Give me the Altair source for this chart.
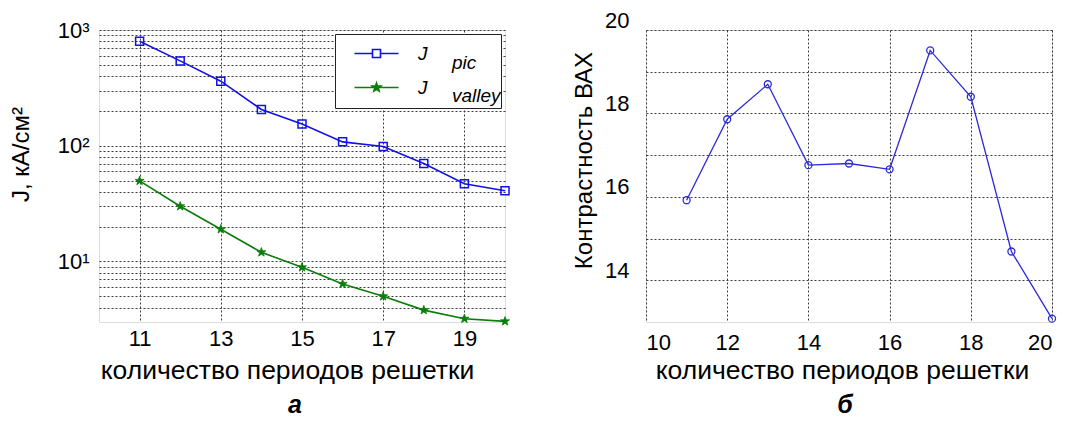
import altair as alt
import pandas as pd

# ---------------- data ----------------
periods = [11, 12, 13, 14, 15, 16, 17, 18, 19, 20]
j_pic = [800, 541, 361, 206, 154, 108, 98.6, 70.3, 47.0, 40.9]
j_valley = [49.7, 30.0, 19.0, 12.0, 8.9, 6.4, 5.0, 3.8, 3.2, 3.04]
contrast = [15.92, 17.86, 18.70, 16.76, 16.80, 16.66, 19.51, 18.40, 14.69, 13.08]
series_names = ["pic", "valley"]

left_x_ticks = [11, 13, 15, 17, 19]
left_y_grid = [4, 5, 6, 7, 8, 9, 10, 20, 30, 40, 50, 60, 70, 80, 90,
               100, 200, 300, 400, 500, 600, 700, 800, 900, 1000]
right_x_ticks = [10, 12, 14, 16, 18, 20]
right_y_grid = [14, 15, 16, 17, 18, 19, 20]

# ---------------- style ----------------
FONT = "Liberation Sans, Arial, Helvetica, sans-serif"
BLUE = "#1212e6"
BLUE2 = "#2a2ad8"
GREEN = "#0a7d0a"
GRID = dict(grid=True, gridColor="#3a3a3a", gridDash=[2, 2], gridWidth=1,
            gridOpacity=1, domain=False, ticks=False, labelOverlap=False,
            labelColor="black", titleColor="black", titleFontWeight="normal",
            labelFont=FONT, titleFont=FONT)

STAR = ("M0,-1L0.235,-0.324L0.951,-0.309L0.38,0.124L0.588,0.809L0,0.4"
        "L-0.588,0.809L-0.38,0.124L-0.951,-0.309L-0.235,-0.324Z")
# legend symbols: a short line with the marker in its middle
LEG_PIC = "M0,0H4.5M6.5,0H11M4.5,-1H6.5V1H4.5Z"
LEG_VAL = ("M0,0H11M5.5,-1.12L5.76,-0.36L6.57,-0.35L5.93,0.14L6.16,0.91L5.5,0.45"
           "L4.84,0.91L5.07,0.14L4.43,-0.35L5.24,-0.36Z")

NB = "\u00a0"
ZW = "\u200b"

df_j = pd.DataFrame({
    "n": periods * 2,
    "J": j_pic + j_valley,
    "series": ["pic"] * len(periods) + ["valley"] * len(periods),
})
df_j["sub"] = df_j["series"]
df_c = pd.DataFrame({"n": periods, "C": contrast})

W, H = 406, 292

# ---------------- left panel ----------------
xl = alt.X("n:Q", scale=alt.Scale(domain=[10, 20], nice=False, zero=False),
           axis=alt.Axis(values=left_x_ticks, title="количество периодов решетки",
                         labelFontSize=22, labelPadding=6, titleFontSize=26.5,
                         titleX=188, titleY=48, titleAlign="center",
                         titleBaseline="middle", **GRID))
yl = alt.Y("J:Q", scale=alt.Scale(type="log", domain=[3, 1000], nice=False),
           axis=alt.Axis(values=left_y_grid,
                         labelExpr="datum.value == 10 ? '10¹' : datum.value == 100 ? '10²' : datum.value == 1000 ? '10³' : ''",
                         title="J, кА/см²", labelFontSize=22, labelPadding=10,
                         titleFontSize=24, titleAngle=270, titleX=-78, titleY=124,
                         titleAlign="center", titleBaseline="middle", **GRID))

base_l = alt.Chart(df_j)
line_pic = base_l.transform_filter("datum.series == 'pic'").mark_line(
    color=BLUE, strokeWidth=1.6).encode(x=xl, y=yl)
line_val = base_l.transform_filter("datum.series == 'valley'").mark_line(
    color=GREEN, strokeWidth=1.6).encode(x=xl, y=yl)
pts_pic = base_l.transform_filter("datum.series == 'pic'").mark_point(
    shape="square", size=64, filled=False, color=BLUE, strokeWidth=1.5, opacity=1
).encode(x=xl, y=yl)
pts_val = base_l.transform_filter("datum.series == 'valley'").mark_point(
    shape=STAR, size=90, filled=True, color=GREEN, strokeWidth=0.8, stroke=GREEN, opacity=1
).encode(x=xl, y=yl)

leg_main = alt.Legend(
    title=None, orient="top-right", offset=4, padding=10,
    strokeColor="#222", fillColor="white", symbolSize=64, symbolStrokeWidth=1.6,
    symbolOpacity=1, labelFont=FONT, labelFontSize=19, labelFontStyle="italic",
    labelColor="black", labelOffset=54, rowPadding=14, labelLimit=400,
    labelExpr="'J" + NB * 12 + ZW + "'", zindex=1,
)
legend_layer = base_l.mark_point(filled=True, strokeWidth=1.6, opacity=0).encode(
    x=xl, y=yl,
    stroke=alt.Stroke("series:N", scale=alt.Scale(domain=series_names, range=[BLUE, GREEN]), legend=leg_main),
    shape=alt.Shape("series:N", scale=alt.Scale(domain=series_names, range=[LEG_PIC, LEG_VAL]), legend=leg_main),
    fill=alt.Fill("series:N", scale=alt.Scale(domain=series_names, range=["transparent", GREEN]), legend=leg_main),
)
leg_sub = alt.Legend(
    title=None, orient="none", legendX=334, legendY=23, padding=0,
    symbolOpacity=0, symbolStrokeWidth=0, symbolType="circle",
    labelFont=FONT, labelFontSize=19, labelFontStyle="italic", labelColor="black",
    labelOffset=0, rowPadding=13, zindex=2,
)
sub_layer = base_l.mark_point(strokeWidth=0, opacity=0).encode(
    x=xl, y=yl,
    size=alt.Size("sub:N", scale=alt.Scale(domain=series_names, range=[1, 1]), legend=leg_sub),
)

left = alt.layer(line_pic, line_val, pts_pic, pts_val, legend_layer, sub_layer).properties(
    width=W, height=H,
    title=alt.TitleParams("а", orient="bottom", font=FONT, fontSize=25,
                          fontStyle="italic", fontWeight="bold", color="black",
                          offset=9, dx=-7),
)

# ---------------- right panel ----------------
xr = alt.X("n:Q", scale=alt.Scale(domain=[10, 20], nice=False, zero=False),
           axis=alt.Axis(values=right_x_ticks, title="количество периодов решетки",
                         labelFontSize=22, labelPadding=10, titleFontSize=26.5,
                         titleX=196, titleY=48, titleAlign="center",
                         titleBaseline="middle", **GRID))
yr = alt.Y("C:Q", scale=alt.Scale(domain=[13, 20], nice=False, zero=False),
           axis=alt.Axis(values=right_y_grid,
                         labelExpr="datum.value % 2 == 0 ? datum.label : ''",
                         labelOffset=-10, title="Контрастность ВАХ",
                         labelFontSize=22, labelPadding=17, titleFontSize=24,
                         titleAngle=270, titleX=-62, titleY=130,
                         titleAlign="center", titleBaseline="middle", **GRID))

base_r = alt.Chart(df_c)
line_r = base_r.mark_line(color=BLUE2, strokeWidth=1.3).encode(x=xr, y=yr)
pts_r = base_r.mark_point(shape="circle", size=49, filled=False, color=BLUE2,
                          strokeWidth=1.3, opacity=1).encode(x=xr, y=yr)

right = alt.layer(line_r, pts_r).properties(
    width=W, height=H,
    title=alt.TitleParams("б", orient="bottom", font=FONT, fontSize=25,
                          fontStyle="italic", fontWeight="bold", color="black",
                          offset=9, dx=-4),
)

R = dict(stroke="independent", shape="independent", fill="independent", size="independent")
chart = alt.hconcat(left, right, spacing=141).properties(
    padding=0, bounds="flush"
).resolve_scale(**R).resolve_legend(**R).configure_view(
    stroke="#555", strokeWidth=1.2
).configure(background="white")

chart.save("out.html", embed_options={"renderer": "svg", "actions": False})
